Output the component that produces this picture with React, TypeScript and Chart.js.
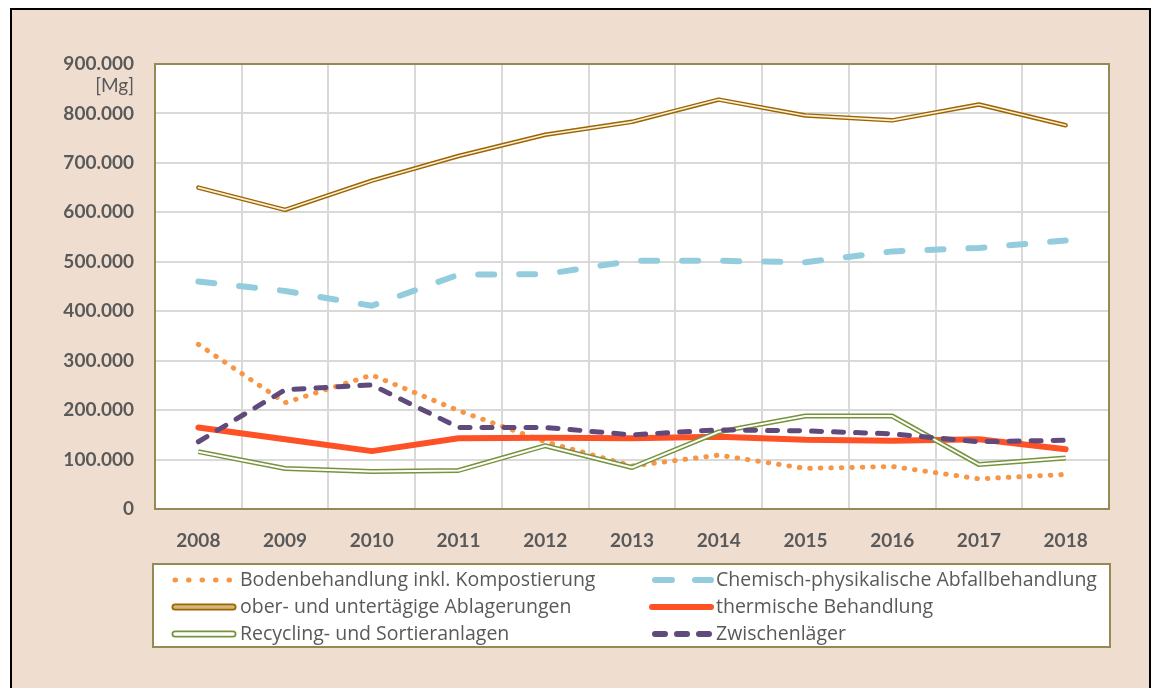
import React, { useEffect, useRef } from 'react';
import { Chart, registerables } from 'chart.js';

Chart.register(...registerables);

// ---------- data ----------
const years = ['2008', '2009', '2010', '2011', '2012', '2013', '2014', '2015', '2016', '2017', '2018'];
const boden = [333000, 215000, 271000, 199000, 136000, 87000, 109000, 82000, 86000, 61000, 70000];
const chemisch = [460000, 441000, 411000, 474000, 475000, 502000, 502000, 499000, 521000, 528000, 543000];
const ablagerungen = [650000, 605000, 664000, 714000, 757000, 783000, 828000, 796000, 786000, 818000, 776000];
const thermisch = [165000, 141000, 117000, 143000, 144000, 143000, 146000, 140000, 138000, 141000, 121000];
const recycling = [116000, 82000, 76000, 78000, 128000, 84000, 156000, 188000, 188000, 90000, 103000];
const zwischen = [136000, 241000, 251000, 165000, 165000, 150000, 160000, 158000, 152000, 136000, 139000];

const seriesLabels = [
  'Bodenbehandlung inkl. Kompostierung',
  'Chemisch-physikalische Abfallbehandlung',
  'ober- und untertägige Ablagerungen',
  'thermische Behandlung',
  'Recycling- und Sortieranlagen',
  'Zwischenläger',
];
const unitLabel = '[Mg]';
const yMax = 900000;
const yStep = 100000;

// ---------- styles ----------
const FONT = 'Lato, "Open Sans", "DejaVu Sans", sans-serif';
const LEGEND_FONT = '"Open Sans", Lato, "DejaVu Sans", sans-serif';
const TEXT = '#595959';
const GRID = '#D9D9D9';
const PLOT_BORDER = '#948A54';
const BG = '#EFDED0';

const C_BODEN = '#F79646';
const C_CHEM = '#93CDDD';
const C_ABL = '#9C6500';
const C_ABL_IN = '#FBF0DA';
const C_THERM = '#FF5126';
const C_REC = '#77933C';
const C_ZW = '#604A7B';

function fmt(v: number): string {
  return String(Math.round(v)).replace(/\B(?=(\d{3})+(?!\d))/g, '.');
}

type LegendKind = 'dot' | 'dash' | 'double' | 'solid' | 'dash2';
const legendDefs: { kind: LegendKind; color: string; inner?: string }[] = [
  { kind: 'dot', color: C_BODEN },
  { kind: 'dash', color: C_CHEM },
  { kind: 'double', color: C_ABL, inner: '#D6B57A' },
  { kind: 'solid', color: C_THERM },
  { kind: 'double', color: C_REC, inner: '#FFFFFF' },
  { kind: 'dash2', color: C_ZW },
];

function drawLegend(ctx: CanvasRenderingContext2D) {
  const bx = 153, by = 564, bw = 957, bh = 83;
  ctx.save();
  ctx.fillStyle = '#FFFFFF';
  ctx.fillRect(bx, by, bw, bh);
  ctx.strokeStyle = PLOT_BORDER;
  ctx.lineWidth = 2;
  ctx.strokeRect(bx, by, bw, bh);
  const rows = [580, 607, 634];
  const cols = [{ s0: 175, s1: 233, t: 240 }, { s0: 652, s1: 711, t: 716 }];
  ctx.font = `19.5px ${LEGEND_FONT}`;
  ctx.textBaseline = 'middle';
  ctx.textAlign = 'left';
  seriesLabels.forEach((label, i) => {
    const def = legendDefs[i];
    const c = cols[i % 2];
    const y = rows[Math.floor(i / 2)];
    ctx.save();
    ctx.beginPath();
    ctx.lineCap = 'round';
    ctx.strokeStyle = def.color;
    if (def.kind === 'dot') {
      ctx.lineWidth = 5;
      ctx.setLineDash([0.5, 13]);
      ctx.moveTo(c.s0, y);
      ctx.lineTo(c.s1, y);
      ctx.stroke();
    } else if (def.kind === 'dash') {
      ctx.lineWidth = 6;
      ctx.setLineDash([17, 23]);
      ctx.moveTo(c.s0 + 3, y);
      ctx.lineTo(c.s1, y);
      ctx.stroke();
    } else if (def.kind === 'dash2') {
      ctx.lineWidth = 6;
      ctx.setLineDash([10, 12]);
      ctx.moveTo(c.s0 + 3, y);
      ctx.lineTo(c.s1, y);
      ctx.stroke();
    } else if (def.kind === 'solid') {
      ctx.lineWidth = 6;
      ctx.moveTo(c.s0, y);
      ctx.lineTo(c.s1, y);
      ctx.stroke();
    } else {
      ctx.lineWidth = 7;
      ctx.moveTo(c.s0, y);
      ctx.lineTo(c.s1, y);
      ctx.stroke();
      ctx.beginPath();
      ctx.lineWidth = 3.5;
      ctx.strokeStyle = def.inner || '#fff';
      ctx.moveTo(c.s0, y);
      ctx.lineTo(c.s1, y);
      ctx.stroke();
    }
    ctx.restore();
    ctx.fillStyle = TEXT;
    ctx.fillText(label, c.t, y);
  });
  ctx.restore();
}

const decorPlugin = {
  id: 'decor',
  beforeDraw(chart: any) {
    const { ctx, chartArea: a } = chart;
    ctx.save();
    ctx.fillStyle = '#FFFFFF';
    ctx.fillRect(a.left, a.top, a.right - a.left, a.bottom - a.top);
    ctx.restore();
  },
  beforeDatasetsDraw(chart: any) {
    const { ctx, chartArea: a } = chart;
    ctx.save();
    ctx.strokeStyle = PLOT_BORDER;
    ctx.lineWidth = 2;
    ctx.strokeRect(a.left, a.top, a.right - a.left, a.bottom - a.top);
    ctx.restore();
  },
  afterDraw(chart: any) {
    const { ctx, chartArea: a } = chart;
    ctx.save();
    ctx.font = `19px ${FONT}`;
    ctx.fillStyle = TEXT;
    ctx.textAlign = 'right';
    ctx.textBaseline = 'middle';
    ctx.fillText(unitLabel, a.left - 21, 86);
    ctx.restore();
    drawLegend(ctx);
  },
};

export default function App() {
  const ref = useRef<HTMLCanvasElement>(null);

  useEffect(() => {
    if (!ref.current) return;
    const base = {
      pointRadius: 0,
      pointHoverRadius: 0,
      tension: 0,
      fill: false,
      borderJoinStyle: 'round' as const,
    };
    const chart = new Chart(ref.current, {
      type: 'line',
      data: {
        labels: years,
        datasets: [
          { ...base, label: seriesLabels[0], data: boden, borderColor: C_BODEN, borderWidth: 5, borderDash: [0.5, 10], borderCapStyle: 'round', order: 8 },
          { ...base, label: seriesLabels[1], data: chemisch, borderColor: C_CHEM, borderWidth: 6, borderDash: [16, 25], borderCapStyle: 'round', order: 7 },
          { ...base, label: seriesLabels[2], data: ablagerungen, borderColor: C_ABL, borderWidth: 4.5, borderCapStyle: 'round', order: 6 },
          { ...base, label: seriesLabels[2] + ' (innen)', data: ablagerungen, borderColor: C_ABL_IN, borderWidth: 1.6, borderCapStyle: 'round', order: 5 },
          { ...base, label: seriesLabels[3], data: thermisch, borderColor: C_THERM, borderWidth: 6, borderCapStyle: 'round', order: 4 },
          { ...base, label: seriesLabels[4], data: recycling, borderColor: C_REC, borderWidth: 5, borderCapStyle: 'butt', order: 3 },
          { ...base, label: seriesLabels[4] + ' (innen)', data: recycling, borderColor: '#FFFFFF', borderWidth: 2, borderCapStyle: 'butt', order: 2 },
          { ...base, label: seriesLabels[5], data: zwischen, borderColor: C_ZW, borderWidth: 5, borderDash: [10, 12], borderCapStyle: 'round', order: 1 },
        ],
      },
      options: {
        responsive: false,
        animation: false,
        devicePixelRatio: 1,
        events: [],
        layout: { padding: { left: 0, top: 64, right: 47, bottom: 129 } },
        plugins: { legend: { display: false }, tooltip: { enabled: false } },
        scales: {
          x: {
            type: 'category',
            offset: true,
            grid: { offset: true, color: GRID, lineWidth: 2, drawTicks: false },
            border: { display: false },
            ticks: {
              color: TEXT,
              font: { family: FONT, size: 19, weight: 'bold' },
              padding: 20,
              autoSkip: false,
              maxRotation: 0,
            },
            afterFit: (s: any) => { s.height = 50; },
          },
          y: {
            min: 0,
            max: yMax,
            grid: { color: GRID, lineWidth: 2, drawTicks: false },
            border: { display: false },
            ticks: {
              stepSize: yStep,
              color: TEXT,
              font: { family: FONT, size: 19, weight: 'bold' },
              padding: 21,
              callback: (v: any) => fmt(Number(v)),
            },
            afterFit: (s: any) => { s.width = 155; },
          },
        },
      } as any,
      plugins: [decorPlugin],
    });
    return () => chart.destroy();
  }, []);

  return (
    <div style={{ position: 'absolute', left: 0, top: 0, width: 1156, height: 688, overflow: 'hidden' }}>
      <div
        style={{
          position: 'absolute',
          left: 10,
          top: 8,
          width: 1137,
          height: 720,
          border: '2px solid #000',
          background: BG,
        }}
      />
      <canvas
        ref={ref}
        width={1156}
        height={688}
        style={{ position: 'absolute', left: 0, top: 0, width: 1156, height: 688, display: 'block' }}
      />
    </div>
  );
}
